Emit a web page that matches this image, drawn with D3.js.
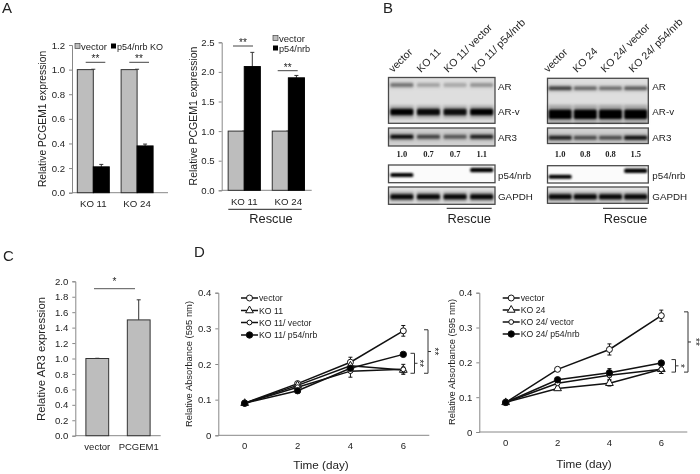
<!DOCTYPE html>
<html><head><meta charset="utf-8">
<script src="https://cdn.jsdelivr.net/npm/d3@7"></script>
<style>
html,body{margin:0;padding:0;background:#fff}
svg{display:block;filter:blur(.3px)}
text{font-family:"Liberation Sans",Arial,sans-serif;fill:#222}
</style></head><body><svg id="c" width="700" height="474" viewBox="0 0 700 474"></svg>
<script>
// ---------- data ----------
const koLabels = ["KO 11","KO 24"];
const a1Vector = [1,1], a1Vectorerr=[0.003,0.003];
const a1P54 = [0.21,0.38], a1P54err=[0.02,0.015];
const a1Ticks = [0,0.2,0.4,0.6,0.8,1.0,1.2];
const a2Vector = [1,1], a2Vectorerr=[0,0];
const a2P54 = [2.09,1.9], a2P54err=[0.24,0.04];
const a2Ticks = [0,0.5,1,1.5,2,2.5];
const cLabels = ["vector","PCGEM1"];
const cValues = [1,1.5], cErr=[0.003,0.26];
const cTicks = [0,0.2,0.4,0.6,0.8,1,1.2,1.4,1.6,1.8,2];
const days = [0,2,4,6];
const dTicks = [0,0.1,0.2,0.3,0.4];
const d1Names = ["vector","KO 11","KO 11/ vector","KO 11/ p54/nrb"];
const d1Vector = [0.09,0.145,0.205,0.293], d1VectorErr=[0,0.004,0.014,0.015];
const d1KO = [0.09,0.14,0.195,0.183], d1KOErr=[0,0.004,0.008,0.008];
const d1KOv = [0.09,0.135,0.18,0.185], d1KOvErr=[0,0.004,0.017,0.014];
const d1Rescue = [0.09,0.125,0.188,0.227], d1RescueErr=[0,0.004,0.01,0.004];
const d2Names = ["vector","KO 24","KO 24/ vector","KO 24/ p54/nrb"];
const d2Vector = [0.085,0.18,0.237,0.334], d2VectorErr=[0,0.003,0.016,0.016];
const d2KO = [0.085,0.125,0.14,0.18], d2KOErr=[0,0.005,0.008,0.012];
const d2KOv = [0.085,0.14,0.163,0.18], d2KOvErr=[0,0.005,0.012,0.012];
const d2Rescue = [0.085,0.15,0.17,0.198], d2RescueErr=[0,0.005,0.012,0.006];
const lanes1 = ["vector","KO 11","KO 11/ vector","KO 11/ p54/nrb"];
const lanes2 = ["vector","KO 24","KO 24/ vector","KO 24/ p54/nrb"];
const ratio1 = ["1.0","0.7","0.7","1.1"];
const ratio2 = ["1.0","0.8","0.8","1.5"];
const b1AR = [.42,.22,.2,.28], b1ARv=[1,.95,.92,1], b1AR3=[.95,.6,.5,.8], b1P54=[1,0,0,0], b1P54up=[0,0,0,1], b1GAPDH=[.95,.95,.95,.95];
const b2AR = [.65,.45,.42,.5], b2ARv=[1,1,1,1], b2AR3=[.8,.55,.55,.9], b2P54=[1,0,0,0], b2P54up=[0,0,0,1], b2GAPDH=[.95,.95,.95,.95];

// ---------- helpers ----------
const svg = d3.select("#c");
const GREY="#bdbdbd", AX="#888";
const defs = svg.append("defs");
defs.append("filter").attr("id","soft").attr("x","-20%").attr("y","-80%").attr("width","140%").attr("height","260%")
  .append("feGaussianBlur").attr("stdDeviation","1.1 .8");
defs.append("filter").attr("id","halo").attr("x","-30%").attr("y","-150%").attr("width","160%").attr("height","400%")
  .append("feGaussianBlur").attr("stdDeviation","1.6 1.6");
function text(x,y,s,size,anchor,rot,weight){
  const t=svg.append("text").attr("x",x).attr("y",y).attr("font-size",size).attr("text-anchor",anchor||"start").text(s);
  if(rot!==undefined&&rot!==null)t.attr("transform",`rotate(${rot} ${x} ${y})`);
  if(weight)t.attr("font-weight",weight).style("font-family",'"Liberation Serif",serif');
  return t;
}
function hline(x1,x2,y,c,w){svg.append("line").attr("x1",x1).attr("x2",x2).attr("y1",y).attr("y2",y).attr("stroke",c||"#444").attr("stroke-width",w||1);}
function yAxis(x,scale,ticks,fmt,size){
  const g=svg.append("g").attr("transform",`translate(${x},0)`).call(d3.axisLeft(scale).tickValues(ticks).tickFormat(fmt).tickSize(3).tickPadding(4));
  g.selectAll("path,line").attr("stroke",AX);
  g.selectAll("text").attr("font-size",size||9.6).attr("font-family",null);
}
function xAxisLine(x1,x2,y){hline(x1,x2,y,AX,1);}
function bar(x,w,y0,y1,fill){svg.append("rect").attr("x",x).attr("width",w).attr("y",y1).attr("height",y0-y1).attr("fill",fill).attr("stroke",fill==="#000"?"#000":"#333").attr("stroke-width",1);}
function err(x,y0,y1){
  svg.append("line").attr("x1",x).attr("x2",x).attr("y1",y0).attr("y2",y1).attr("stroke","#333").attr("stroke-width",1);
  hline(x-2,x+2,y1,"#333",1);
}
function groupedBars(cfg){
  const y=d3.scaleLinear().domain(cfg.domain).range(cfg.yr);
  yAxis(cfg.ax,y,cfg.ticks,d3.format(".1f"));
  xAxisLine(cfg.ax,cfg.axEnd,y(0));
  const x=d3.scaleBand().domain(koLabels).range(cfg.xr).paddingInner(cfg.pad).paddingOuter(cfg.pad/2);
  koLabels.forEach((k,i)=>{
    const w=x.bandwidth()/2,l=x(k);
    err(l+w,y(cfg.a[i]),y(cfg.a[i]+cfg.ae[i]));
    err(l+1.5*w,y(cfg.b[i]),y(cfg.b[i]+cfg.be[i]));
    bar(l,w,y(0),y(cfg.a[i]),GREY);
    bar(l+w,w,y(0),y(cfg.b[i]),"#000");
    text(l+w,cfg.labY,k,9.7,"middle");
  });
}
function stars(x,y,s,rot){text(x,y,s,10,"middle",rot);}

// ---------- panel letters ----------
text(2,13,"A",15);text(383,13,"B",15);text(3,261,"C",15);text(194,257,"D",15);

// ---------- A ----------
groupedBars({domain:[0,1.2],yr:[192.7,45],ax:72,axEnd:168,ticks:a1Ticks,xr:[71.4,159],pad:.27,a:a1Vector,ae:a1Vectorerr,b:a1P54,be:a1P54err,labY:207});
text(46,119,"Relative PCGEM1 expression",10.3,"middle",-90);
hline(85.7,105.3,62.3);hline(129.3,149,62.3);
stars(95.5,62,"**");stars(139,62,"**");
svg.append("rect").attr("x",75).attr("y",43.5).attr("width",5).attr("height",5).attr("fill",GREY).attr("stroke","#444").attr("stroke-width",.7);
text(81,50,"vector",9.5);
svg.append("rect").attr("x",111).attr("y",43.5).attr("width",5).attr("height",5).attr("fill","#000");
text(117,50,"p54/nrb KO",9);

groupedBars({domain:[0,2.5],yr:[190.3,42.3],ax:221.7,axEnd:311.7,ticks:a2Ticks,xr:[222.2,310.4],pad:.27,a:a2Vector,ae:a2Vectorerr,b:a2P54,be:a2P54err,labY:205});
text(197,116,"Relative PCGEM1 expression",10.5,"middle",-90);
hline(233,253,46);hline(277.7,297.7,70.7);
stars(243,46,"**");stars(287.7,71,"**");
svg.append("rect").attr("x",273).attr("y",35.5).attr("width",5).attr("height",5).attr("fill",GREY).attr("stroke","#444").attr("stroke-width",.7);
text(279,42,"vector",9.5);
svg.append("rect").attr("x",273).attr("y",45.5).attr("width",5).attr("height",5).attr("fill","#000");
text(279,52,"p54/nrb",9.2);
hline(228.3,301.7,209.3,"#222",1);
text(271,223,"Rescue",12.8,"middle");

// ---------- B ----------
function blot(cfg){
  const x=d3.scaleBand().domain(cfg.lanes).range([cfg.x0,cfg.x1]);
  const op=d3.scaleLinear().domain([0,1]).range([0,1]);
  function frame(y0,y1,bg){svg.append("rect").attr("x",cfg.x0).attr("y",y0).attr("width",cfg.x1-cfg.x0).attr("height",y1-y0).attr("fill",bg).attr("stroke","#4a4a4a").attr("stroke-width",1.3);}
  function bands(vals,y,h,halo){
    const rows=vals.map((v,i)=>({v,l:cfg.lanes[i]})).filter(d=>d.v>0);
    if(halo) svg.append("g").attr("filter","url(#halo)").selectAll("rect").data(rows).join("rect")
      .attr("x",d=>x(d.l)+x.bandwidth()/2-12).attr("width",24).attr("y",y-h).attr("height",h*2)
      .attr("fill","#000").attr("opacity",d=>op(d.v)*halo);
    svg.append("g").attr("filter","url(#soft)").selectAll("rect").data(rows).join("rect")
      .attr("x",d=>x(d.l)+x.bandwidth()/2-11.5).attr("width",23).attr("y",y-h/2).attr("height",h).attr("rx",1.5)
      .attr("fill","#000").attr("opacity",d=>op(d.v));
  }
  frame(cfg.y.top[0],cfg.y.top[1],"#dedede");
  bands(cfg.ar,cfg.y.ar,3.5,.3);bands(cfg.arv,cfg.y.arv,cfg.y.arvH,.25);
  frame(cfg.y.mid[0],cfg.y.mid[1],"#d0d0d0");
  bands(cfg.ar3,cfg.y.ar3,3.6,.35);
  frame(cfg.y.p[0],cfg.y.p[1],"#fbfbfb");
  bands(cfg.p54,cfg.y.p54,4);bands(cfg.p54up,cfg.y.p54up,4.5);
  frame(cfg.y.g[0],cfg.y.g[1],"#e2e2e2");
  bands(cfg.gapdh,cfg.y.gapdh,5,.3);
  cfg.ratio.forEach((r,i)=>text(x(cfg.lanes[i])+x.bandwidth()/2,157,r,8.5,"middle",null,"bold"));
  cfg.lanes.forEach((l,i)=>text(cfg.labelX[i],73,l,10.5,"start",-45));
  [["AR",90],["AR-v",115],["AR3",141],["p54/nrb",179],["GAPDH",200]].forEach(d=>text(cfg.x1+3+cfg.labOff,d[1],d[0],9.8));
  hline(cfg.res[0],cfg.res[1],208.3,"#222",1);
  text((cfg.res[0]+cfg.res[1])/2,222.7,"Rescue",12.8,"middle");
}
blot({lanes:lanes1,x0:388.5,x1:495,labelX:[393,421,448,476],labOff:0,ratio:ratio1,ar:b1AR,arv:b1ARv,ar3:b1AR3,p54:b1P54,p54up:b1P54up,gapdh:b1GAPDH,res:[446.7,491.7],
  y:{top:[77.5,123.3],mid:[128,146],p:[165,182.7],g:[187,204.3],ar:85,arv:112,arvH:6.5,ar3:136.7,p54:175,p54up:170,gapdh:196.7}});
blot({lanes:lanes2,x0:547.5,x1:648.3,labelX:[548,577,605,633],labOff:1,ratio:ratio2,ar:b2AR,arv:b2ARv,ar3:b2AR3,p54:b2P54,p54up:b2P54up,gapdh:b2GAPDH,res:[603,647.7],
  y:{top:[78.3,123.3],mid:[128,143.5],p:[165.7,183],g:[187,203.3],ar:88.3,arv:114.3,arvH:9.5,ar3:137.7,p54:176.7,p54up:170.7,gapdh:196.7}});

// ---------- C ----------
(function(){
  const y=d3.scaleLinear().domain([0,2]).range([435.7,281.3]);
  yAxis(75.3,y,cTicks,d3.format(".1f"),9.6);
  xAxisLine(75.3,160.7,y(0));
  const x=d3.scaleBand().domain(cLabels).range([74.7,161.3]).paddingInner(.45).paddingOuter(.27);
  cLabels.forEach((k,i)=>{
    const l=x(k),w=x.bandwidth();
    err(l+w/2,y(cValues[i]),y(cValues[i]+cErr[i]));
    bar(l,w,y(0),y(cValues[i]),GREY);
    text(l+w/2,450,k,9.5,"middle");
  });
  text(45,359,"Relative AR3 expression",11.4,"middle",-90);
  hline(94,135,288.7,"#555",1);
  stars(114.5,285,"*");
})();

// ---------- D ----------
function symbols(sel,kind,x,y){
  if(kind===1){sel.append("path").attr("d",d3.symbol(d3.symbolTriangle,26)).attr("transform",`translate(${x},${y})`).attr("fill","#fff").attr("stroke","#111").attr("stroke-width",1);}
  else sel.append("circle").attr("cx",x).attr("cy",y).attr("r",kind===0?3:kind===2?2.4:3.2).attr("fill",kind===3?"#000":"#fff").attr("stroke","#111").attr("stroke-width",1);
}
function linePanel(cfg){
  const y=d3.scaleLinear().domain([0,0.4]).range(cfg.yr);
  const x=d3.scaleLinear().domain([0,6]).range(cfg.xr);
  yAxis(cfg.ax,y,dTicks,d3.format(".1~f"),9.6);
  xAxisLine(cfg.ax,cfg.axEnd,y(0));
  days.forEach(d=>text(x(d),cfg.xLabY,d,9.5,"middle"));
  const line=d3.line().x((d,i)=>x(days[i])).y(d=>y(d));
  cfg.series.forEach(s=>svg.append("path").attr("d",line(s.v)).attr("fill","none").attr("stroke","#111").attr("stroke-width",1.5));
  cfg.series.forEach(s=>s.e.forEach((e,i)=>{
    if(!e)return;
    const X=x(days[i]);
    svg.append("line").attr("x1",X).attr("x2",X).attr("y1",y(s.v[i]-e)).attr("y2",y(s.v[i]+e)).attr("stroke","#111");
    hline(X-2,X+2,y(s.v[i]-e),"#111");hline(X-2,X+2,y(s.v[i]+e),"#111");
  }));
  cfg.series.forEach((s,k)=>s.v.forEach((v,i)=>symbols(svg,k,x(days[i]),y(v))));
  cfg.names.forEach((n,k)=>{
    const ly=cfg.legY[k];
    hline(cfg.legX,cfg.legX+17,ly,"#111",1.5);
    symbols(svg,k,cfg.legX+8.5,ly);
    text(cfg.legX+18,ly+3.3,n,8.7);
  });
  cfg.br.forEach(b=>{
    const xm=b.x+4;
    svg.append("path").attr("d",`M${b.x},${y(b.top)}H${xm}V${y(b.bot)}H${b.x}M${xm},${(y(b.top)+y(b.bot))/2}h3`).attr("fill","none").attr("stroke","#333");
    stars(b.sx,(y(b.top)+y(b.bot))/2,b.s,90);
  });
  text(cfg.titleX,cfg.titleY,"Relative Absorbance (595 nm)",9.4,"middle",-90);
  text(cfg.timeX,cfg.timeY,"Time (day)",11.7,"middle");
}
linePanel({yr:[435.3,292.7],xr:[244.7,403.3],ax:218.3,axEnd:429.3,xLabY:449,names:d1Names,legX:241,legY:[298,310.5,322.5,335],titleX:192,titleY:364,timeX:321,timeY:469,
  series:[{v:d1Vector,e:d1VectorErr},{v:d1KO,e:d1KOErr},{v:d1KOv,e:d1KOvErr},{v:d1Rescue,e:d1RescueErr}],
  br:[{x:424,top:0.296,bot:0.174,sx:431,s:"**"},{x:410.5,top:0.23,bot:0.174,sx:416,s:"**"}]});
linePanel({yr:[432,292.7],xr:[505.7,661.3],ax:479.3,axEnd:687.3,xLabY:446,names:d2Names,legX:502.7,legY:[298,310,322,334],titleX:455,titleY:362,timeX:584,timeY:468,
  series:[{v:d2Vector,e:d2VectorErr},{v:d2KO,e:d2KOErr},{v:d2KOv,e:d2KOvErr},{v:d2Rescue,e:d2RescueErr}],
  br:[{x:684,top:0.345,bot:0.172,sx:692,s:"**"},{x:671.5,top:0.208,bot:0.172,sx:677,s:"*"}]});
</script></body></html>
